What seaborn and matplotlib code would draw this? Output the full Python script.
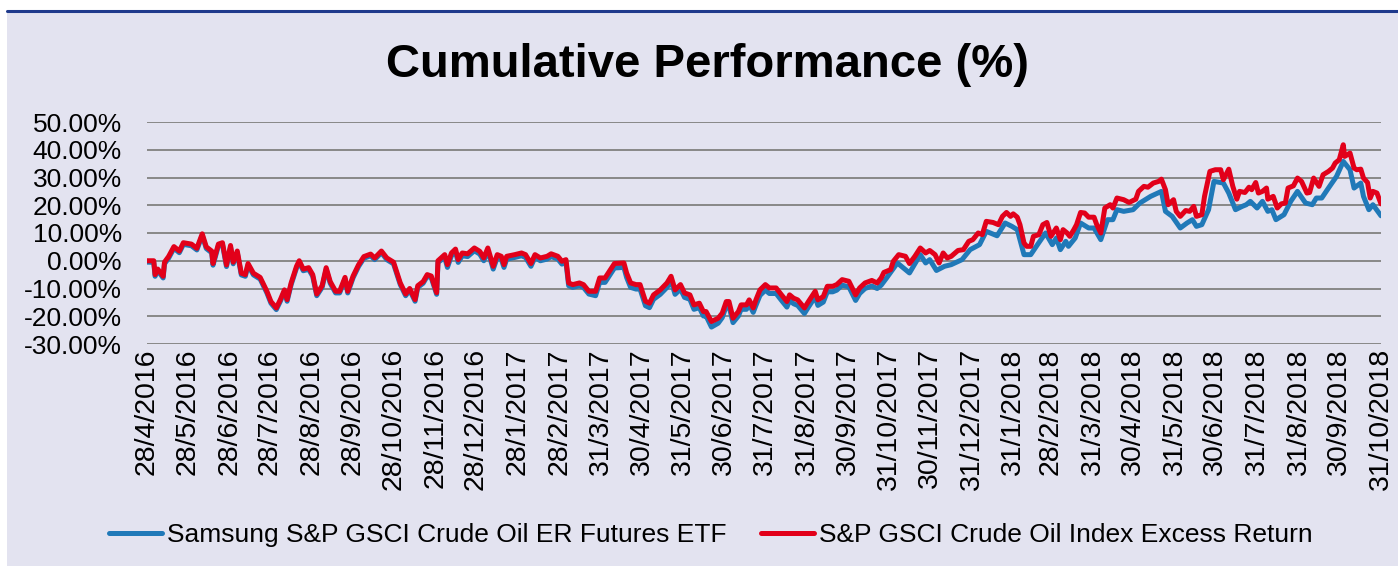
import matplotlib
matplotlib.use("Agg")

import matplotlib.pyplot as plt
import matplotlib.patches as mpatches
import matplotlib.lines as mlines
import matplotlib.ticker as mticker
import seaborn as sns
import pandas as pd

# --- data ---
START = "2016-04-28"

etf_name = "Samsung S&P GSCI Crude Oil ER Futures ETF"
idx_name = "S&P GSCI Crude Oil Index Excess Return"

# index: days since start, cumulative performance (%)
idx_days = [
    0, 1, 5, 6, 8, 12, 13, 16, 20, 24, 27, 33, 37, 41, 44, 48, 49, 53, 56, 59,
    62, 64, 67, 70, 73, 75, 79, 84, 89, 92, 96, 99, 102, 104, 107, 111, 113, 116, 120, 123,
    126, 130, 133, 136, 140, 143, 147, 149, 153, 157, 161, 166, 169, 174, 178, 183, 188, 192, 195, 199,
    201, 205, 208, 211, 215, 216, 221, 223, 226, 229, 231, 234, 238, 243, 247, 250, 253, 257, 260, 263,
    265, 267, 273, 278, 281, 285, 288, 292, 297, 300, 305, 308, 311, 313, 316, 321, 324, 328, 333, 336,
    340, 344, 347, 354, 356, 359, 363, 366, 370, 373, 376, 381, 386, 389, 392, 396, 399, 403, 406, 410,
    413, 415, 419, 424, 427, 430, 432, 435, 439, 441, 445, 447, 450, 452, 455, 459, 462, 467, 471, 475,
    477, 480, 483, 488, 491, 496, 498, 502, 505, 509, 512, 516, 521, 526, 529, 533, 538, 542, 545, 547,
    552, 554, 558, 563, 566, 570, 574, 578, 581, 585, 588, 591, 594, 597, 602, 606, 610, 613, 617, 620,
    623, 628, 632, 635, 638, 641, 643, 646, 648, 651, 653, 656, 658, 662, 665, 668, 671, 675, 678, 680,
    683, 685, 688, 690, 693, 696, 699, 703, 705, 708, 711, 715, 717, 720, 725, 729, 734, 736, 740, 743,
    747, 751, 753, 756, 758, 762, 764, 767, 771, 774, 777, 779, 783, 785, 789, 793, 797, 799, 803, 806,
    809, 811, 815, 818, 820, 823, 825, 828, 831, 832, 836, 839, 842, 845, 847, 851, 854, 857, 861, 863,
    866, 870, 873, 877, 880, 882, 885, 888, 889, 893, 896, 898, 901, 903, 906, 908, 910, 913, 916,
]
idx_perf = [
    0.0, 0.0, 0.0, -5.0, -3.0, -5.6, -0.5, 1.5, 5.1, 3.5, 6.5, 6.0, 4.5, 9.7, 5.0, 3.5, -1.0, 6.0, 6.5, -1.5,
    5.5, -0.5, 3.5, -4.5, -5.0, -1.0, -4.5, -6.0, -11.0, -14.7, -17.0, -14.0, -10.5, -14.0, -8.0, -2.0, 0.0, -3.0, -2.5, -5.0,
    -12.0, -9.0, -2.5, -7.5, -11.0, -11.0, -6.0, -11.0, -5.5, -1.5, 1.5, 2.4, 1.0, 3.5, 1.0, -0.5, -8.0, -12.0, -10.0, -14.0,
    -9.0, -7.5, -5.0, -5.5, -11.5, 0.0, 2.2, -1.4, 2.8, 4.2, 0.4, 2.8, 2.5, 4.6, 3.4, 1.0, 4.6, -2.0, 2.2, 1.6,
    -1.4, 1.6, 2.2, 2.8, 2.2, -1.0, 2.2, 1.0, 1.6, 2.5, 1.6, -0.2, 0.4, -8.0, -8.6, -8.0, -8.6, -11.0, -11.0, -6.2,
    -6.2, -3.2, -1.0, -0.8, -4.4, -8.0, -8.6, -8.6, -14.6, -15.3, -12.3, -10.5, -8.0, -5.6, -10.5, -8.6, -11.6, -12.3, -15.9, -15.3,
    -18.3, -18.3, -21.9, -20.7, -18.9, -14.7, -14.7, -20.7, -18.3, -15.9, -15.9, -14.1, -17.0, -14.1, -10.5, -8.6, -9.8, -9.8, -12.3, -14.7,
    -12.3, -13.5, -14.1, -17.0, -14.7, -11.0, -14.1, -12.9, -9.2, -9.2, -8.6, -6.8, -7.4, -12.3, -9.8, -8.0, -7.1, -8.0, -6.2, -4.2,
    -3.2, -0.2, 2.2, 1.6, -1.0, 1.6, 4.6, 2.8, 3.7, 2.2, -0.8, 2.8, 1.0, 1.6, 3.7, 4.0, 7.0, 7.6, 10.0, 9.4,
    14.2, 13.8, 13.0, 16.0, 17.4, 16.0, 16.9, 15.7, 13.0, 6.4, 5.2, 5.2, 8.8, 9.4, 13.0, 13.8, 8.8, 11.8, 7.6, 11.2,
    10.0, 8.8, 11.2, 13.0, 17.4, 17.2, 15.7, 15.7, 13.0, 10.0, 19.0, 20.2, 19.0, 22.6, 22.0, 21.0, 22.2, 25.0, 26.8, 26.5,
    28.0, 28.6, 29.4, 25.6, 20.2, 22.0, 17.8, 16.0, 18.1, 17.8, 19.6, 16.0, 16.6, 23.2, 32.2, 32.8, 32.8, 29.2, 33.0, 26.8,
    22.2, 25.0, 24.6, 26.5, 25.6, 28.2, 24.4, 25.0, 26.2, 22.2, 23.2, 19.0, 20.5, 20.8, 26.2, 27.0, 29.8, 28.6, 24.4, 24.6,
    29.8, 26.8, 31.0, 32.2, 33.4, 35.2, 36.4, 41.8, 37.6, 38.8, 33.4, 32.8, 33.0, 29.8, 28.2, 22.6, 25.0, 24.4, 20.5,
]

# ETF: days since start, cumulative performance (%)
etf_days = [
    0, 1, 5, 6, 8, 12, 13, 16, 20, 24, 27, 33, 37, 41, 44, 48, 49, 53, 56, 59,
    62, 64, 67, 70, 73, 75, 79, 84, 89, 92, 96, 99, 102, 104, 107, 111, 113, 116, 120, 123,
    126, 130, 133, 136, 140, 143, 147, 149, 153, 157, 161, 166, 169, 174, 178, 183, 188, 192, 195, 199,
    201, 205, 208, 211, 215, 216, 221, 223, 226, 229, 231, 234, 238, 243, 247, 250, 253, 257, 260, 263,
    265, 267, 273, 278, 281, 285, 288, 292, 297, 300, 305, 308, 311, 313, 316, 321, 324, 328, 333, 336,
    340, 344, 347, 354, 356, 359, 363, 366, 370, 373, 376, 381, 386, 389, 392, 396, 399, 403, 406, 410,
    413, 415, 419, 424, 427, 430, 432, 435, 439, 441, 445, 447, 450, 452, 455, 459, 462, 467, 471, 475,
    477, 480, 483, 488, 491, 496, 498, 502, 505, 509, 512, 516, 521, 526, 529, 533, 538, 542, 545, 549,
    557, 566, 574, 578, 581, 586, 592, 597, 605, 611, 618, 623, 631, 637, 642, 646, 651, 656, 661, 667,
    672, 675, 678, 682, 684, 689, 693, 699, 703, 708, 713, 717, 720, 725, 732, 737, 745, 753, 756, 761,
    767, 772, 776, 779, 783, 788, 792, 799, 803, 808, 813, 816, 819, 824, 828, 832, 835, 838, 844, 849,
    854, 860, 865, 868, 872, 877, 883, 888, 893, 896, 901, 903, 907, 910, 916,
]
etf_perf = [
    -0.5, -0.5, -0.6, -5.6, -3.6, -6.2, -1.1, 0.9, 4.5, 2.9, 5.9, 5.4, 3.9, 9.1, 4.4, 2.9, -1.6, 5.4, 5.9, -2.1,
    4.9, -1.1, 2.9, -5.1, -5.6, -1.6, -5.1, -6.6, -11.6, -15.3, -17.6, -14.6, -11.1, -14.6, -8.6, -2.6, -0.6, -3.6, -3.1, -5.6,
    -12.6, -9.6, -3.1, -8.1, -11.6, -11.6, -6.6, -11.6, -6.1, -2.1, 0.9, 1.8, 0.4, 2.9, 0.4, -1.1, -8.6, -12.6, -10.6, -14.6,
    -9.6, -8.1, -5.6, -6.1, -12.1, -0.6, 1.2, -2.4, 1.8, 3.2, -0.6, 1.8, 1.5, 3.6, 2.4, 0.0, 3.6, -3.0, 1.2, 0.6,
    -2.4, 0.6, 1.2, 1.8, 1.2, -2.0, 1.2, 0.0, 0.6, 1.5, 0.6, -1.2, -0.6, -9.0, -9.6, -9.0, -9.6, -12.0, -12.6, -7.8,
    -7.8, -4.8, -2.6, -2.4, -6.0, -9.6, -10.2, -10.2, -16.2, -16.9, -13.9, -12.1, -9.6, -7.2, -12.1, -10.2, -13.2, -13.9, -17.5, -16.9,
    -19.9, -19.9, -23.9, -22.5, -20.5, -16.3, -16.3, -22.3, -19.9, -17.5, -17.5, -15.7, -18.6, -16.1, -12.5, -10.6, -11.8, -11.8, -14.3, -16.7,
    -14.3, -15.5, -16.1, -19.0, -16.7, -13.0, -16.1, -14.9, -11.2, -11.2, -10.6, -8.8, -9.4, -14.3, -11.8, -10.0, -9.1, -10.0, -8.8, -6.2,
    -0.8, -4.4, 2.2, -0.8, 0.4, -3.5, -2.0, -1.4, 0.4, 4.0, 5.8, 10.6, 9.0, 13.6, 12.4, 11.2, 2.2, 2.2, 5.8, 10.0,
    5.8, 8.2, 4.0, 7.0, 5.2, 8.2, 13.6, 11.8, 11.8, 7.6, 14.8, 14.8, 18.4, 17.8, 18.4, 20.8, 23.2, 25.0, 17.8, 16.0,
    11.8, 13.6, 14.8, 12.4, 13.0, 18.4, 28.6, 28.0, 24.4, 18.4, 19.6, 20.2, 21.4, 19.0, 21.4, 17.8, 18.4, 14.8, 16.6, 21.4,
    25.0, 20.8, 20.2, 22.6, 22.6, 26.2, 30.4, 35.8, 32.8, 26.2, 28.0, 23.2, 18.4, 20.2, 16.2,
]

tick_dates = [
    "2016-04-28", "2016-05-28", "2016-06-28", "2016-07-28", "2016-08-28", "2016-09-28",
    "2016-10-28", "2016-11-28", "2016-12-28", "2017-01-28", "2017-02-28", "2017-03-31",
    "2017-04-30", "2017-05-31", "2017-06-30", "2017-07-31", "2017-08-31", "2017-09-30",
    "2017-10-31", "2017-11-30", "2017-12-31", "2018-01-31", "2018-02-28", "2018-03-31",
    "2018-04-30", "2018-05-31", "2018-06-30", "2018-07-31", "2018-08-31", "2018-09-30",
    "2018-10-31",
]
tick_labels = [
    "28/4/2016", "28/5/2016", "28/6/2016", "28/7/2016", "28/8/2016", "28/9/2016",
    "28/10/2016", "28/11/2016", "28/12/2016", "28/1/2017", "28/2/2017", "31/3/2017",
    "30/4/2017", "31/5/2017", "30/6/2017", "31/7/2017", "31/8/2017", "30/9/2017",
    "31/10/2017", "30/11/2017", "31/12/2017", "31/1/2018", "28/2/2018", "31/3/2018",
    "30/4/2018", "31/5/2018", "30/6/2018", "31/7/2018", "31/8/2018", "30/9/2018",
    "31/10/2018",
]

# --- build long-form table ---
start = pd.Timestamp(START)
df = pd.concat([
    pd.DataFrame({"date": start + pd.to_timedelta(etf_days, unit="D"),
                  "perf": etf_perf, "series": etf_name}),
    pd.DataFrame({"date": start + pd.to_timedelta(idx_days, unit="D"),
                  "perf": idx_perf, "series": idx_name}),
], ignore_index=True)

BG = "#E3E3F0"
BLUE = "#2079B8"
RED = "#E2001A"
GRID = "#888888"

sns.set_style("white")
plt.rcParams["font.family"] = ["Liberation Sans", "DejaVu Sans"]
plt.rcParams["text.color"] = "black"

fig = plt.figure(figsize=(13.98, 5.66), dpi=100)
fig.patch.set_facecolor("white")

# lavender panel + dark blue top rule (behind the axes)
fig.patches.append(mpatches.Rectangle((7 / 1398, 0), 1 - 7 / 1398, 1 - 10 / 566,
                                      transform=fig.transFigure, facecolor=BG,
                                      edgecolor="none", zorder=-5))
fig.lines.append(mlines.Line2D([7 / 1398, 1], [1 - 11 / 566, 1 - 11 / 566],
                               transform=fig.transFigure, color="#1F3A8C", lw=2.2,
                               zorder=-4))

ax = fig.add_axes([147 / 1398, 1 - 344 / 566, (1381 - 147) / 1398, (344 - 122) / 566])
ax.set_facecolor(BG)
ax.set_zorder(2)

sns.lineplot(data=df, x="date", y="perf", hue="series",
             hue_order=[etf_name, idx_name], palette=[BLUE, RED],
             linewidth=3.6, ax=ax, estimator=None, sort=True,
             solid_joinstyle="round", solid_capstyle="round")

ax.set_ylim(-30, 50)
ax.set_yticks(range(-30, 51, 10))
ax.yaxis.set_major_formatter(mticker.FuncFormatter(lambda v, p: f"{v:.2f}%"))
ax.set_xlim(pd.Timestamp(tick_dates[0]), pd.Timestamp(tick_dates[-1]))
ax.set_xticks(pd.to_datetime(tick_dates))
ax.set_xticklabels(tick_labels, rotation=90, va="top", ha="center")

ax.grid(axis="y", color=GRID, linewidth=1.4)
ax.grid(axis="x", visible=False)
ax.set_axisbelow(True)
for s in ax.spines.values():
    s.set_visible(False)
ax.tick_params(axis="y", length=0, pad=18, labelsize=19, labelcolor="black")
ax.tick_params(axis="x", length=0, pad=3, labelsize=20.5, labelcolor="black")
ax.set_xlabel("")
ax.set_ylabel("")

# legend below the chart
handles, labels = ax.get_legend_handles_labels()
ax.get_legend().remove()
for h in handles:
    h.set_linewidth(3.6)
leg = fig.legend(handles, labels, loc="center", bbox_to_anchor=(711 / 1398, 1 - 535 / 566),
                 ncol=2, frameon=False, fontsize=19, handlelength=2.0,
                 handletextpad=0.2, columnspacing=1.3)
for t in leg.get_texts():
    t.set_color("black")

fig.text(708 / 1398, 1 - 65 / 566, "Cumulative Performance (%)",
         ha="center", va="center", fontsize=34, fontweight="bold", color="black")

fig.savefig("out.png", dpi=100, facecolor=fig.get_facecolor())
